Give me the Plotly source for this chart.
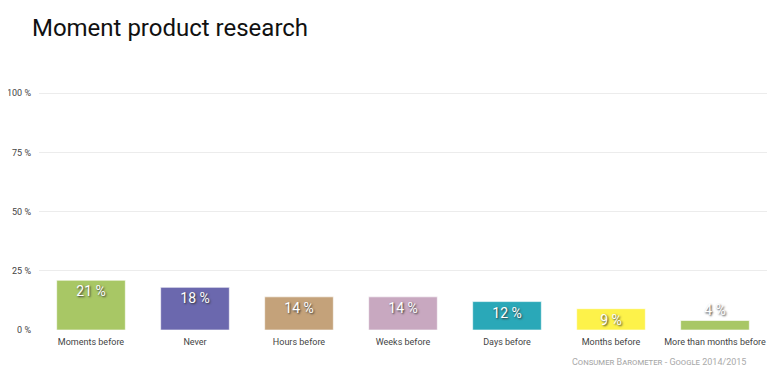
import plotly.graph_objects as go

categories = ["Moments before", "Never", "Hours before", "Weeks before",
              "Days before", "Months before", "More than months before"]
values = [21, 18, 14, 14, 12, 9, 4]
colors = ["#a8c765", "#6b68ae", "#c4a27a", "#c8a8c0", "#2aa8b8", "#fdf24a", "#a8c765"]
label_positions = ["inside", "inside", "inside", "inside", "inside", "inside", "outside"]
y_ticks = [0, 25, 50, 75, 100]
y_tick_labels = [f"{v} %" for v in y_ticks]

FONT = "Roboto, Lato, sans-serif"

fig = go.Figure(go.Bar(
    x=categories, y=values,
    marker=dict(color=colors, line=dict(color="rgba(255,255,255,0.6)", width=1)),
    width=0.66,
    text=[f"{v} %" for v in values],
    textposition=label_positions, insidetextanchor="end",
    textangle=0,
    textfont=dict(family=FONT, size=14, color="white", shadow="1px 1px 2px #333"),
    cliponaxis=False,
    hoverinfo="skip",
))

fig.update_layout(
    width=772, height=369,
    margin=dict(l=31, r=13, t=84, b=47, autoexpand=False),
    paper_bgcolor="white", plot_bgcolor="white",
    showlegend=False,
    uniformtext=dict(minsize=14, mode="show"),
    title=dict(text="Moment product research", x=0.031, xanchor="left", y=0.946, yanchor="middle",
               font=dict(family=FONT, size=24, color="#111")),
    xaxis=dict(showgrid=False, showline=False, ticks="", zeroline=False, automargin=False,
               ticklabelstandoff=5,
               tickfont=dict(family=FONT, size=9, color="#444")),
    yaxis=dict(range=[0, 100.5], tickvals=y_ticks, ticktext=y_tick_labels, automargin=False,
               showgrid=True, gridcolor="#ececec", gridwidth=1, zeroline=False,
               showline=False, ticks="", ticklabelstandoff=7,
               tickfont=dict(family=FONT, size=9, color="#444")),
    annotations=[dict(text="Consumer Barometer - Google 2014/2015", xref="paper", yref="paper",
                      x=0.974, y=-0.135, xanchor="right", yanchor="middle", showarrow=False,
                      font=dict(family=FONT, size=9, color="#aaa", variant="small-caps"))],
)

fig.write_html("out.html")
